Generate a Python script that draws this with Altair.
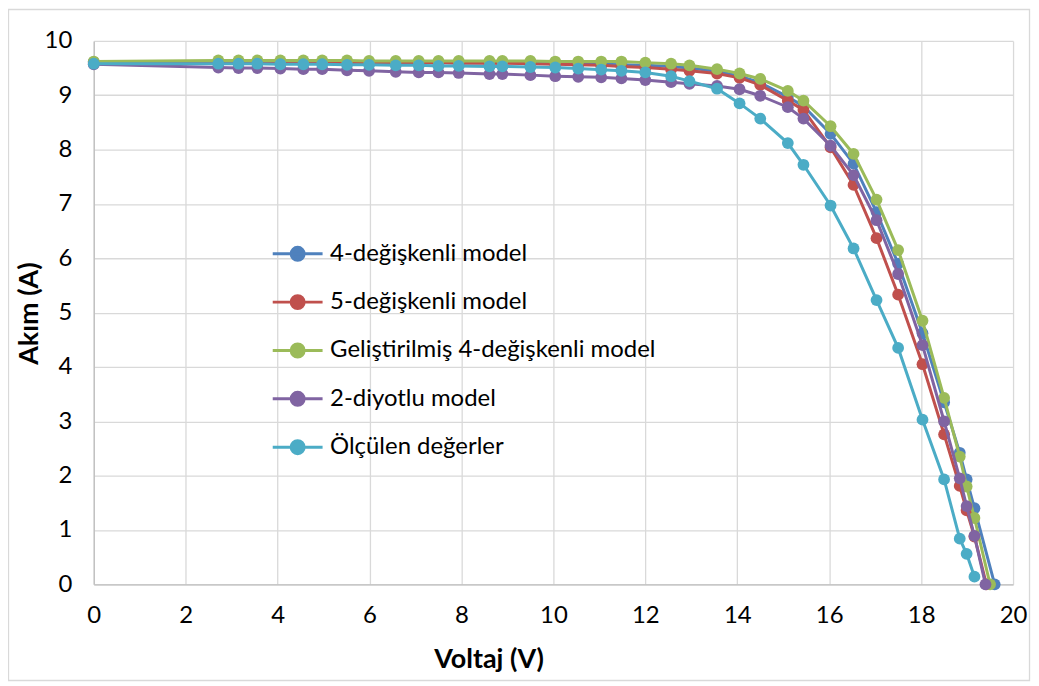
import altair as alt
import pandas as pd

# ---- data ----
series_names = [
    "4-değişkenli model",
    "5-değişkenli model",
    "Geliştirilmiş 4-değişkenli model",
    "2-diyotlu model",
    "Ölçülen değerler",
]
series_colors = ["#4F81BD", "#C0504D", "#9BBB59", "#8064A2", "#4BACC6"]

voltage_common = [0, 2.71, 3.15, 3.56, 4.06, 4.56, 4.97, 5.51, 5.99, 6.57, 7.07, 7.50,
                  7.94, 8.61, 8.89, 9.50, 10.04, 10.54, 11.04, 11.48, 12.00, 12.56,
                  12.96, 13.56, 14.05, 14.50, 15.10, 15.44, 16.03, 16.53, 17.03, 17.50,
                  18.03, 18.50]
voltage_tail = [18.84, 18.99, 19.16]
voc_models = [19.60, 19.42, 19.50, 19.40]

i_4deg = [9.61, 9.61, 9.61, 9.61, 9.61, 9.61, 9.61, 9.61, 9.61, 9.60, 9.60, 9.60,
          9.60, 9.60, 9.60, 9.59, 9.59, 9.58, 9.57, 9.56, 9.55, 9.53, 9.50, 9.44,
          9.35, 9.23, 8.97, 8.80, 8.29, 7.74, 6.85, 5.90, 4.62, 3.35,
          2.42, 1.93, 1.40, 0.0]
i_5deg = [9.60, 9.60, 9.60, 9.60, 9.60, 9.60, 9.60, 9.60, 9.60, 9.60, 9.60, 9.60,
          9.59, 9.59, 9.59, 9.58, 9.57, 9.56, 9.55, 9.53, 9.51, 9.48, 9.45, 9.40,
          9.32, 9.19, 8.90, 8.73, 8.04, 7.35, 6.37, 5.33, 4.05, 2.76,
          1.81, 1.36, 0.88, 0.0]
i_gelistirilmis = [9.62, 9.64, 9.64, 9.64, 9.64, 9.64, 9.64, 9.64, 9.63, 9.63, 9.63, 9.63,
                   9.63, 9.63, 9.63, 9.63, 9.62, 9.62, 9.62, 9.62, 9.60, 9.58, 9.55, 9.48,
                   9.40, 9.30, 9.08, 8.90, 8.43, 7.92, 7.08, 6.15, 4.85, 3.43,
                   2.35, 1.80, 1.22, 0.0]
i_2diyot = [9.57, 9.51, 9.50, 9.50, 9.49, 9.48, 9.48, 9.46, 9.45, 9.43, 9.42, 9.42,
            9.41, 9.39, 9.39, 9.37, 9.35, 9.34, 9.33, 9.31, 9.28, 9.24, 9.21, 9.17,
            9.11, 8.99, 8.78, 8.57, 8.07, 7.53, 6.70, 5.71, 4.40, 3.00,
            1.95, 1.44, 0.89, 0.0]
i_olculen = [9.58, 9.58, 9.58, 9.58, 9.57, 9.57, 9.57, 9.56, 9.56, 9.55, 9.55, 9.54,
             9.54, 9.53, 9.53, 9.52, 9.51, 9.49, 9.47, 9.45, 9.42, 9.35, 9.26, 9.12,
             8.85, 8.57, 8.12, 7.72, 6.97, 6.18, 5.23, 4.35, 3.03, 1.93,
             0.84, 0.56, 0.14]

x_ticks = list(range(0, 21, 2))
y_ticks = list(range(0, 11, 1))

currents = [i_4deg, i_5deg, i_gelistirilmis, i_2diyot, i_olculen]

FONT = "Lato"

frames = []
for k, (name, cur) in enumerate(zip(series_names, currents)):
    if k < 4:
        v = voltage_common + voltage_tail + [voc_models[k]]
    else:
        v = voltage_common + voltage_tail
    frames.append(pd.DataFrame({"V": v, "I": cur, "seri": name, "idx": range(len(v))}))

color_scale = alt.Scale(domain=series_names, range=series_colors)
legend_path = ("M-2,0H2M-0.52,0A0.52,0.52,0,1,1,0.52,0"
               "A0.52,0.52,0,1,1,-0.52,0Z")
legend = alt.Legend(
    title=None, orient="none", legendX=190.5, legendY=199.5, padding=0,
    symbolType=legend_path, symbolSize=625, symbolStrokeWidth=3,
    symbolOpacity=1, labelFontSize=24, labelFont=FONT, labelColor="#000000",
    labelOffset=18.5, rowPadding=21.5, labelLimit=600,
)

x_enc = alt.X("V:Q", scale=alt.Scale(domain=[0, 20], nice=False),
              axis=alt.Axis(values=x_ticks, title="Voltaj (V)", titleX=396, titleY=75,
                            titleBaseline="middle", labelFlush=False, labelPadding=19))
y_enc = alt.Y("I:Q", scale=alt.Scale(domain=[0, 10], nice=False),
              axis=alt.Axis(values=y_ticks, title="Akım (A)", titleX=-64, titleY=273,
                            titleBaseline="middle", titleAngle=-90, labelFlush=False,
                            labelPadding=22))

border = alt.Chart(pd.DataFrame({"a": [0]})).mark_rect(
    fill=None, stroke="#d9d9d9", strokeWidth=1.3
).encode(x=alt.value(-85.5), x2=alt.value(938.5), y=alt.value(-31.5), y2=alt.value(641.5))

layers = [border]
for df in frames:
    base = alt.Chart(df)
    line = base.mark_line(strokeWidth=3).encode(
        x=x_enc, y=y_enc, order="idx:Q",
        color=alt.Color("seri:N", scale=color_scale, legend=legend, sort=series_names),
    )
    pts = base.mark_point(filled=True, size=140, opacity=1).encode(
        x=x_enc, y=y_enc,
        color=alt.Color("seri:N", scale=color_scale, legend=legend, sort=series_names),
    )
    layers += [line, pts]

chart = alt.layer(*layers).properties(
    width=922, height=545,
    autosize=alt.AutoSizeParams(type="none"),
    padding={"left": 86, "top": 32, "right": 18, "bottom": 98},
    background="white",
).configure_view(stroke=None).configure_axis(
    grid=True, gridColor="#d9d9d9", gridWidth=1.3,
    domainColor="#bfbfbf", domainWidth=1.3, ticks=False,
    labelFont=FONT, labelFontSize=24, labelColor="#000000",
    titleFont=FONT, titleFontSize=27, titleFontWeight="bold", titleColor="#000000",
)

chart.save("out.html", embed_options={"renderer": "svg", "actions": False})
